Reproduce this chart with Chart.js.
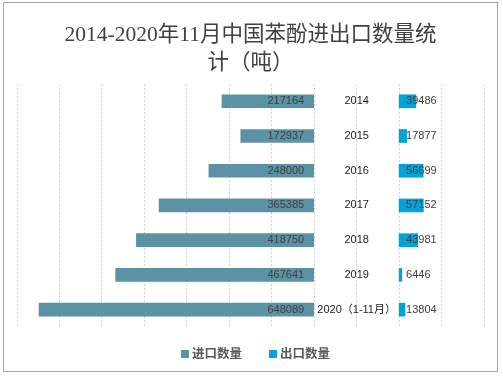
<!DOCTYPE html>
<html>
<head>
<meta charset="utf-8">
<script src="https://cdn.jsdelivr.net/npm/chart.js@4"></script>
<style>
  body { margin: 0; background: #fff; }
  #wrap { position: relative; width: 503px; height: 376px; }
  #frame { position: absolute; left: 3px; top: 2px; width: 493px; height: 368px; border: 1px solid #a6a6a6; pointer-events: none; }
  #legend { position: absolute; top: 345px; left: 0; width: 503px; height: 16px; font: bold 12.5px "Noto Sans CJK SC", sans-serif; color: #595959; }
  #legend span.item { position: absolute; top: 0; line-height: 16px; white-space: nowrap; }
  #legend i { display: inline-block; width: 8px; height: 8px; margin-right: 3px; vertical-align: 0px; }
</style>
</head>
<body>
<div id="wrap">
  <canvas id="tradeChart" width="503" height="376"></canvas>
  <div id="frame"></div>
  <div id="legend">
    <span class="item" style="left:181px"><i style="background:#5b92a6"></i>进口数量</span>
    <span class="item" style="left:269px"><i style="background:#02a3d9"></i>出口数量</span>
  </div>
</div>
<script>
const years = ["2014", "2015", "2016", "2017", "2018", "2019", "2020（1-11月）"];
// 2016 and 2017 import labels sit under the watermark
const importValues = [217164, 172937, 248000, 365385, 418750, 467641, 648089];
const exportValues = [39486, 17877, 56699, 57152, 43981, 6446, 13804];

const GAP = 200000; // empty middle column holding the year labels

const labelPlugin = {
  id: "barLabels",
  afterDatasetsDraw(chart) {
    const ctx = chart.ctx;
    const x = chart.scales.x;
    const zero = x.getPixelForValue(0);
    const mid = x.getPixelForValue(GAP / 2);
    const right = x.getPixelForValue(GAP);
    const bars = chart.getDatasetMeta(0).data;
    ctx.save();
    ctx.textBaseline = "middle";
    bars.forEach((bar, i) => {
      ctx.font = '11px "Liberation Sans", sans-serif';
      ctx.fillStyle = "#404040";
      ctx.textAlign = "right";
      ctx.fillText(importValues[i], zero - 10, bar.y);
      ctx.textAlign = "left";
      ctx.fillText(exportValues[i], right + 7, bar.y);
      ctx.textAlign = "center";
      ctx.fillStyle = "#1f1f1f";
      ctx.font = '11px "Liberation Sans", "Noto Sans CJK SC", sans-serif';
      ctx.fillText(years[i], mid, bar.y);
    });
    ctx.restore();
  }
};

new Chart(document.getElementById("tradeChart"), {
  type: "bar",
  data: {
    labels: years,
    datasets: [
      {
        label: "进口数量",
        data: importValues.map((v) => [-v, 0]),
        backgroundColor: "#5b92a6",
        barThickness: 13,
        grouped: false
      },
      {
        label: "出口数量",
        data: exportValues.map((v) => [GAP, GAP + v]),
        backgroundColor: "#02a3d9",
        barThickness: 13,
        grouped: false
      }
    ]
  },
  options: {
    indexAxis: "y",
    responsive: false,
    animation: false,
    layout: { padding: { left: 17, right: 19, top: 0, bottom: 49 } },
    plugins: {
      legend: { display: false },
      tooltip: { enabled: false },
      title: {
        display: true,
        text: ["2014-2020年11月中国苯酚进出口数量统", "计（吨）"],
        color: "#404040",
        font: { family: '"Liberation Serif", "Noto Sans CJK SC", serif', size: 21.5, weight: "normal", lineHeight: 1.3 },
        padding: { top: 21, bottom: 7 }
      }
    },
    scales: {
      x: {
        min: -700000,
        max: 400000,
        ticks: { display: false, stepSize: 100000 },
        grid: { color: "#d0d0d0", drawTicks: false },
        border: { display: false, dash: [2, 2] }
      },
      y: {
        display: false
      }
    }
  },
  plugins: [labelPlugin]
});
</script>
</body>
</html>
